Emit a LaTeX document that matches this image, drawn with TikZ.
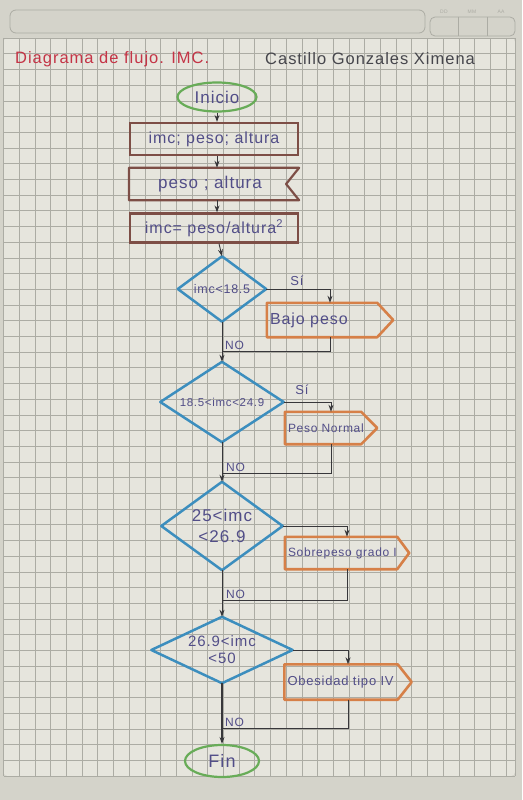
\documentclass[tikz,border=0pt]{standalone}
\usepackage{fontspec}
\setmainfont{Liberation Sans}[LetterSpace=6]
\usetikzlibrary{arrows.meta,calc,shapes.geometric}
\definecolor{paper}{RGB}{230,229,221}
\definecolor{paperdark}{RGB}{212,211,202}
\definecolor{gridc}{RGB}{172,172,164}
\definecolor{ink}{RGB}{82,78,136}
\definecolor{brownc}{RGB}{125,78,70}
\definecolor{bluec}{RGB}{60,142,190}
\definecolor{orangec}{RGB}{214,128,72}
\definecolor{greenc}{RGB}{104,172,88}
\definecolor{linec}{RGB}{55,55,58}
\definecolor{titlered}{RGB}{196,52,70}
\definecolor{authorc}{RGB}{70,70,76}
\newcommand{\fsz}[1]{\fontsize{#1}{#1}\selectfont}
\tikzset{
  txt/.style={text=ink, inner sep=0pt},
  terminal/.style={ellipse, draw=greenc, line width=2.2pt, txt},
  procbox/.style={rectangle, draw=brownc, line width=2.2pt, minimum width=168pt, txt},
  holder/.style={rectangle, draw=none, txt, align=center},
  outbox/.style={rectangle, draw=none, txt, align=left, inner xsep=3pt},
  diamondline/.style={draw=bluec, line width=2.5pt, line join=round},
  outline/.style={draw=orangec, line width=2.6pt, line join=round},
  inputline/.style={draw=brownc, line width=2.2pt, line join=round},
  conn/.style={draw=linec, line width=0.9pt},
  arr/.style={conn, -{Stealth[length=7pt,width=5pt]}},
  lbl/.style={font=\fsz{12}, text=ink, inner sep=0pt}
}
\begin{document}
\begin{tikzpicture}[x=1pt,y=-1pt]
\useasboundingbox (0,0) rectangle (522,800);
\fill[paperdark] (0,0) rectangle (522,800);
\fill[paper, rounded corners=4pt] (3.5,38) rectangle (515,776);
\foreach \i in {0,...,32} \draw[gridc, line width=0.6pt] ({3.5+15.7*\i},38) -- ({3.5+15.7*\i},776);
\foreach \j in {0,...,47} \draw[gridc, line width=0.6pt] (3.5,{38+15.7*\j}) -- (515,{38+15.7*\j});
\draw[gridc, line width=0.6pt] (515,38) -- (515,776);
% header
\draw[gridc, line width=0.8pt, rounded corners=6pt] (10,10) rectangle (425,33);
\draw[gridc, line width=0.8pt, rounded corners=5pt] (430,17) rectangle (515,36);
\draw[gridc, line width=0.8pt] (458,17) -- (458,36) (487,17) -- (487,36);
\node[font=\fsz{5}, text=gridc] (dd) at (444,12) {DD};
\node[font=\fsz{5}, text=gridc] (mm) at (472,12) {MM};
\node[font=\fsz{5}, text=gridc] (aa) at (501,12) {AA};
% titles
\node[anchor=west, font=\fsz{16.5}, text=titlered, inner sep=0pt] (title) at (15,59) {Diagrama de flujo. IMC.};
\node[anchor=west, font=\fsz{16.5}, text=authorc, inner sep=0pt] (author) at (265,59) {Castillo Gonzales Ximena};
% nodes
\node[terminal, minimum width=79pt, minimum height=29pt, font=\fsz{17}] (ini) at (217,97) {Inicio};
\node[procbox, minimum height=32pt, font=\fsz{16}] (r1) at (214,139) {imc; peso; altura};
\node[holder, minimum width=168pt, minimum height=32pt, font=\fsz{17}] (r2) at (210,184) {peso ; altura};
\node[procbox, minimum height=29pt, font=\fsz{16}] (r3) at (214,228) {imc= peso/altura\textsuperscript{2}};
\draw[inputline] (r2.north west -| r1.west) -- (r2.north east -| r1.east) -- ([xshift=-13pt]r2.east -| r1.east) -- (r2.south east -| r1.east) -- (r2.south west -| r1.west) -- cycle;

\node[holder, minimum width=88pt, minimum height=65pt, font=\fsz{12.5}] (d1) at (222,289) {imc<18.5};
\node[holder, minimum width=123pt, minimum height=80pt, font=\fsz{11.5}] (d2) at (222,402) {18.5<imc<24.9};
\node[holder, minimum width=121pt, minimum height=88pt, font=\fsz{17}] (d3) at (222,526) {25<imc\\[4pt]<26.9};
\node[holder, minimum width=141pt, minimum height=66pt, font=\fsz{15}] (d4) at (222,650) {26.9<imc\\[2pt]<50};
\foreach \d in {d1,d2,d3,d4}
  \draw[diamondline] (\d.north) -- (\d.east) -- (\d.south) -- (\d.west) -- cycle;

\node[outbox, minimum width=126pt, minimum height=34pt, text width=120pt, font=\fsz{16}] (b1) at (330,320) {Bajo peso};
\node[outbox, minimum width=92pt, minimum height=32pt, text width=86pt, font=\fsz{12}] (b2) at (331,428) {Peso Normal};
\node[outbox, minimum width=124pt, minimum height=32pt, text width=118pt, font=\fsz{12}] (b3) at (347,553) {Sobrepeso grado I};
\node[outbox, minimum width=127pt, minimum height=35pt, text width=121pt, font=\fsz{13}] (b4) at (348,682) {Obesidad tipo IV};
\draw[outline] (b1.north west) -- ([xshift=-16pt]b1.north east) -- (b1.east) -- ([xshift=-16pt]b1.south east) -- (b1.south west) -- cycle;
\draw[outline] (b2.north west) -- ([xshift=-16pt]b2.north east) -- (b2.east) -- ([xshift=-16pt]b2.south east) -- (b2.south west) -- cycle;
\draw[outline] (b3.north west) -- ([xshift=-12pt]b3.north east) -- (b3.east) -- ([xshift=-12pt]b3.south east) -- (b3.south west) -- cycle;
\draw[outline] (b4.north west) -- ([xshift=-14pt]b4.north east) -- (b4.east) -- ([xshift=-14pt]b4.south east) -- (b4.south west) -- cycle;

\node[terminal, minimum width=74pt, minimum height=32pt, font=\fsz{18}] (fin) at (222,761) {Fin};

% junctions
\coordinate (j1) at (222,351);
\coordinate (j2) at (222,473);
\coordinate (j3) at (222,600);
\coordinate (j4) at (222,728);

% connectors
\draw[arr] (ini.south) -- (ini.south |- r1.north);
\draw[arr] (r1.south -| 217,0) -- (r2.north -| 217,0);
\draw[arr] (r2.south -| 217,0) -- (r3.north -| 217,0);
\draw[arr] (r3.south -| 219,0) -- (d1.north);
\draw[arr] (d1.east) -| (b1.north);
\draw[arr] (d2.east) -| (b2.north);
\draw[arr] (d3.east) -| (b3.north);
\draw[arr] (d4.east) -| (b4.north);
\draw[conn] (b1.south) |- (j1);
\draw[conn] (b2.south) |- (j2);
\draw[conn] (b3.south) |- (j3);
\draw[conn] (b4.south) |- (j4);
\draw[arr] (d1.south) -- (d2.north);
\draw[arr] (d2.south) -- (d3.north);
\draw[arr] (d3.south) -- (d4.north);
\draw[arr, line width=1.6pt] (d4.south) -- (fin.north);

% labels
\node[lbl, anchor=south, font=\fsz{13}] (si1) at (297,286) {Sí};
\node[lbl, anchor=south, font=\fsz{13}] (si2) at (302,395) {Sí};
\node[lbl, anchor=south west] (no1) at (225,350) {NO};
\node[lbl, anchor=south west] (no2) at (226,472) {NO};
\node[lbl, anchor=south west] (no3) at (226,599) {NO};
\node[lbl, anchor=south west] (no4) at (225,727) {NO};
\end{tikzpicture}
\end{document}
